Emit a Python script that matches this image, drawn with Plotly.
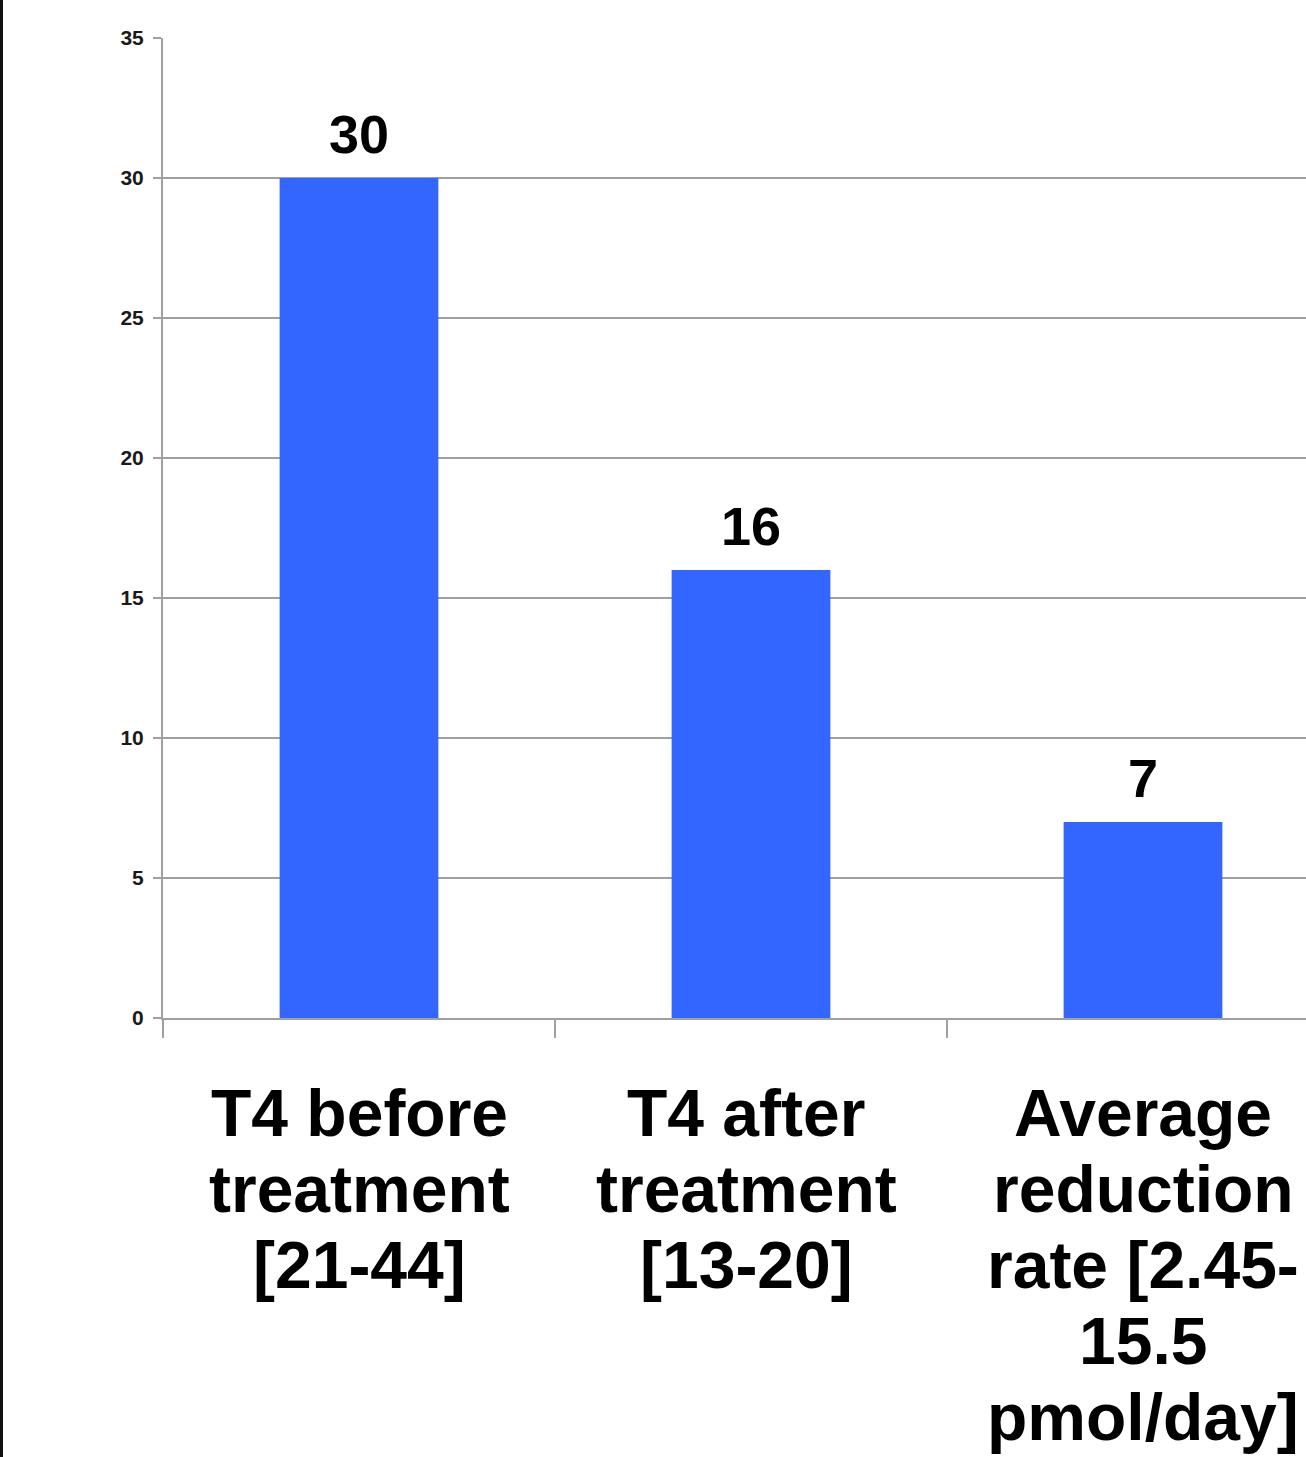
import plotly.graph_objects as go

# Category labels, one entry per line of the wrapped label
label_lines = [
    ["T4 before", "treatment", "[21-44]"],
    ["T4 after", "treatment", "[13-20]"],
    ["Average", "reduction", "rate [2.45-", "15.5", "pmol/day]"],
]
categories = [" ".join(lines) for lines in label_lines]
values = [30, 16, 7]
y_ticks = [0, 5, 10, 15, 20, 25, 30, 35]

W, H = 1306, 1457
M_L, M_R, M_T, M_B = 163, 0, 38, 439

BAR_COLOR = "#3366FF"
GRID_COLOR = "#a0a0a0"
FONT = "Liberation Sans, Arial, sans-serif"

fig = go.Figure()
fig.add_trace(go.Bar(
    x=categories,
    y=values,
    width=0.405,
    marker=dict(color=BAR_COLOR, line=dict(width=0)),
    hoverinfo="skip",
))

annotations = []
# value labels above bars
for cat, v in zip(categories, values):
    annotations.append(dict(
        x=cat, y=v, xref="x", yref="y",
        text=f"<b>{v}</b>", showarrow=False,
        yanchor="bottom", yshift=12,
        font=dict(family=FONT, size=54, color="#000000"),
    ))

# wrapped category labels under the axis
LINE_GAP = 76
FIRST_LINE = 95  # px below the axis to the centre of the first line
for ci, (cat, lines) in enumerate(zip(categories, label_lines)):
    for i, line in enumerate(lines):
        annotations.append(dict(
            x=cat, y=0, xref="x", yref="paper",
            text=f"<b>{line}</b>", showarrow=False,
            yanchor="middle", xanchor="center",
            yshift=-(FIRST_LINE + i * LINE_GAP),
            xshift=-5 if ci == 1 else 0,
            font=dict(family=FONT, size=66, color="#000000"),
        ))

plot_w = W - M_L - M_R
fig.update_layout(
    width=W, height=H,
    margin=dict(l=M_L, r=M_R, t=M_T, b=M_B),
    paper_bgcolor="white", plot_bgcolor="white",
    showlegend=False,
    annotations=annotations,
    shapes=[dict(
        type="line", xref="paper", yref="paper",
        x0=(1.5 - M_L) / plot_w, x1=(1.5 - M_L) / plot_w,
        y0=-M_B / (H - M_T - M_B), y1=1 + M_T / (H - M_T - M_B),
        line=dict(color="#111111", width=3),
    )],
)

fig.update_xaxes(
    type="category",
    range=[-0.5, 2.5 - 33 / 392],
    showticklabels=False,
    ticks="outside", ticklen=18, tickwidth=2, tickcolor=GRID_COLOR,
    tickson="boundaries",
    showline=True, linecolor=GRID_COLOR, linewidth=2,
    showgrid=False, zeroline=False,
)
fig.update_yaxes(
    range=[0, 35],
    tickvals=y_ticks,
    ticks="outside", ticklen=8, tickwidth=2, tickcolor=GRID_COLOR,
    showline=True, linecolor=GRID_COLOR, linewidth=2,
    showgrid=True, gridcolor=GRID_COLOR, gridwidth=2,
    zeroline=False,
    tickfont=dict(family=FONT, size=21, color="#1a1a1a", weight="bold"),
    ticklabelstandoff=5,
)

fig.write_html("out.html")
